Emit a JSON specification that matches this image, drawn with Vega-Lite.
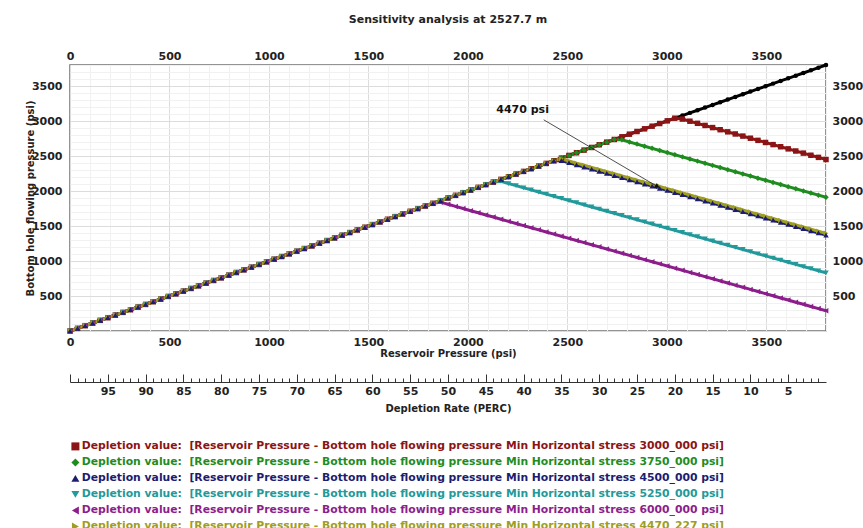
{
"$schema": "https://vega.github.io/schema/vega-lite/v6.json",
"width": 756, "height": 266,
"autosize": {"type": "none"},
"padding": {"left": 70, "top": 65, "right": 37, "bottom": 197},
"background": "white",
"title": {"text": "Sensitivity analysis at 2527.7 m", "font": "DejaVu Sans", "fontSize": 11, "fontWeight": "bold", "color": "#222", "anchor": "middle", "offset": 25},
"config": {
  "view": {"stroke": "#707070", "strokeWidth": 1.5},
  "font": "DejaVu Sans",
  "axis": {"labelFont": "DejaVu Sans", "labelFontWeight": "bold", "labelFontSize": 11, "labelColor": "#222", "titleFont": "DejaVu Sans", "titleFontWeight": "bold", "titleFontSize": 10, "titleColor": "#222", "domain": false, "ticks": false, "grid": false, "labelFlush": false, "labelOverlap": false}
},
"data": {"values": [
{"x":0,"r":0,"g":0,"b":0,"t":0,"p":0,"o":0},
{"x":38,"r":38,"g":38,"b":38,"t":38,"p":38,"o":38},
{"x":76,"r":76,"g":76,"b":76,"t":76,"p":76,"o":76},
{"x":114,"r":114,"g":114,"b":114,"t":114,"p":114,"o":114},
{"x":152,"r":152,"g":152,"b":152,"t":152,"p":152,"o":152},
{"x":190,"r":190,"g":190,"b":190,"t":190,"p":190,"o":190},
{"x":228,"r":228,"g":228,"b":228,"t":228,"p":228,"o":228},
{"x":266,"r":266,"g":266,"b":266,"t":266,"p":266,"o":266},
{"x":304,"r":304,"g":304,"b":304,"t":304,"p":304,"o":304},
{"x":342,"r":342,"g":342,"b":342,"t":342,"p":342,"o":342},
{"x":380,"r":380,"g":380,"b":380,"t":380,"p":380,"o":380},
{"x":418,"r":418,"g":418,"b":418,"t":418,"p":418,"o":418},
{"x":456,"r":456,"g":456,"b":456,"t":456,"p":456,"o":456},
{"x":494,"r":494,"g":494,"b":494,"t":494,"p":494,"o":494},
{"x":532,"r":532,"g":532,"b":532,"t":532,"p":532,"o":532},
{"x":570,"r":570,"g":570,"b":570,"t":570,"p":570,"o":570},
{"x":608,"r":608,"g":608,"b":608,"t":608,"p":608,"o":608},
{"x":646,"r":646,"g":646,"b":646,"t":646,"p":646,"o":646},
{"x":684,"r":684,"g":684,"b":684,"t":684,"p":684,"o":684},
{"x":722,"r":722,"g":722,"b":722,"t":722,"p":722,"o":722},
{"x":760,"r":760,"g":760,"b":760,"t":760,"p":760,"o":760},
{"x":798,"r":798,"g":798,"b":798,"t":798,"p":798,"o":798},
{"x":836,"r":836,"g":836,"b":836,"t":836,"p":836,"o":836},
{"x":874,"r":874,"g":874,"b":874,"t":874,"p":874,"o":874},
{"x":912,"r":912,"g":912,"b":912,"t":912,"p":912,"o":912},
{"x":950,"r":950,"g":950,"b":950,"t":950,"p":950,"o":950},
{"x":988,"r":988,"g":988,"b":988,"t":988,"p":988,"o":988},
{"x":1026,"r":1026,"g":1026,"b":1026,"t":1026,"p":1026,"o":1026},
{"x":1064,"r":1064,"g":1064,"b":1064,"t":1064,"p":1064,"o":1064},
{"x":1102,"r":1102,"g":1102,"b":1102,"t":1102,"p":1102,"o":1102},
{"x":1140,"r":1140,"g":1140,"b":1140,"t":1140,"p":1140,"o":1140},
{"x":1178,"r":1178,"g":1178,"b":1178,"t":1178,"p":1178,"o":1178},
{"x":1216,"r":1216,"g":1216,"b":1216,"t":1216,"p":1216,"o":1216},
{"x":1254,"r":1254,"g":1254,"b":1254,"t":1254,"p":1254,"o":1254},
{"x":1292,"r":1292,"g":1292,"b":1292,"t":1292,"p":1292,"o":1292},
{"x":1330,"r":1330,"g":1330,"b":1330,"t":1330,"p":1330,"o":1330},
{"x":1368,"r":1368,"g":1368,"b":1368,"t":1368,"p":1368,"o":1368},
{"x":1406,"r":1406,"g":1406,"b":1406,"t":1406,"p":1406,"o":1406},
{"x":1444,"r":1444,"g":1444,"b":1444,"t":1444,"p":1444,"o":1444},
{"x":1482,"r":1482,"g":1482,"b":1482,"t":1482,"p":1482,"o":1482},
{"x":1520,"r":1520,"g":1520,"b":1520,"t":1520,"p":1520,"o":1520},
{"x":1558,"r":1558,"g":1558,"b":1558,"t":1558,"p":1558,"o":1558},
{"x":1596,"r":1596,"g":1596,"b":1596,"t":1596,"p":1596,"o":1596},
{"x":1634,"r":1634,"g":1634,"b":1634,"t":1634,"p":1634,"o":1634},
{"x":1672,"r":1672,"g":1672,"b":1672,"t":1672,"p":1672,"o":1672},
{"x":1710,"r":1710,"g":1710,"b":1710,"t":1710,"p":1710,"o":1710},
{"x":1748,"r":1748,"g":1748,"b":1748,"t":1748,"p":1748,"o":1748},
{"x":1786,"r":1786,"g":1786,"b":1786,"t":1786,"p":1786,"o":1786},
{"x":1824,"r":1824,"g":1824,"b":1824,"t":1824,"p":1824,"o":1824},
{"x":1862,"r":1862,"g":1862,"b":1862,"t":1862,"p":1840.4,"o":1862},
{"x":1900,"r":1900,"g":1900,"b":1900,"t":1900,"p":1810,"o":1900},
{"x":1938,"r":1938,"g":1938,"b":1938,"t":1938,"p":1779.6,"o":1938},
{"x":1976,"r":1976,"g":1976,"b":1976,"t":1976,"p":1749.2,"o":1976},
{"x":2014,"r":2014,"g":2014,"b":2014,"t":2014,"p":1718.8,"o":2014},
{"x":2052,"r":2052,"g":2052,"b":2052,"t":2052,"p":1688.4,"o":2052},
{"x":2090,"r":2090,"g":2090,"b":2090,"t":2090,"p":1658,"o":2090},
{"x":2128,"r":2128,"g":2128,"b":2128,"t":2128,"p":1627.6,"o":2128},
{"x":2166,"r":2166,"g":2166,"b":2166,"t":2137.2,"p":1597.2,"o":2166},
{"x":2204,"r":2204,"g":2204,"b":2204,"t":2106.8,"p":1566.8,"o":2204},
{"x":2242,"r":2242,"g":2242,"b":2242,"t":2076.4,"p":1536.4,"o":2242},
{"x":2280,"r":2280,"g":2280,"b":2280,"t":2046,"p":1506,"o":2280},
{"x":2318,"r":2318,"g":2318,"b":2318,"t":2015.6,"p":1475.6,"o":2318},
{"x":2356,"r":2356,"g":2356,"b":2356,"t":1985.2,"p":1445.2,"o":2356},
{"x":2394,"r":2394,"g":2394,"b":2394,"t":1954.8,"p":1414.8,"o":2394},
{"x":2432,"r":2432,"g":2432,"b":2432,"t":1924.4,"p":1384.4,"o":2432},
{"x":2470,"r":2470,"g":2470,"b":2434,"t":1894,"p":1354,"o":2459},
{"x":2508,"r":2508,"g":2508,"b":2403.6,"t":1863.6,"p":1323.6,"o":2428.6},
{"x":2546,"r":2546,"g":2546,"b":2373.2,"t":1833.2,"p":1293.2,"o":2398.2},
{"x":2584,"r":2584,"g":2584,"b":2342.8,"t":1802.8,"p":1262.8,"o":2367.8},
{"x":2622,"r":2622,"g":2622,"b":2312.4,"t":1772.4,"p":1232.4,"o":2337.4},
{"x":2660,"r":2660,"g":2660,"b":2282,"t":1742,"p":1202,"o":2307},
{"x":2698,"r":2698,"g":2698,"b":2251.6,"t":1711.6,"p":1171.6,"o":2276.6},
{"x":2736,"r":2736,"g":2736,"b":2221.2,"t":1681.2,"p":1141.2,"o":2246.2},
{"x":2774,"r":2774,"g":2730.8,"b":2190.8,"t":1650.8,"p":1110.8,"o":2215.8},
{"x":2812,"r":2812,"g":2700.4,"b":2160.4,"t":1620.4,"p":1080.4,"o":2185.4},
{"x":2850,"r":2850,"g":2670,"b":2130,"t":1590,"p":1050,"o":2155},
{"x":2888,"r":2888,"g":2639.6,"b":2099.6,"t":1559.6,"p":1019.6,"o":2124.6},
{"x":2926,"r":2926,"g":2609.2,"b":2069.2,"t":1529.2,"p":989.2,"o":2094.2},
{"x":2964,"r":2964,"g":2578.8,"b":2038.8,"t":1498.8,"p":958.8,"o":2063.8},
{"x":3002,"r":3002,"g":2548.4,"b":2008.4,"t":1468.4,"p":928.4,"o":2033.4},
{"x":3040,"r":3040,"g":2518,"b":1978,"t":1438,"p":898,"o":2003},
{"x":3078,"r":3027.6,"g":2487.6,"b":1947.6,"t":1407.6,"p":867.6,"o":1972.6},
{"x":3116,"r":2997.2,"g":2457.2,"b":1917.2,"t":1377.2,"p":837.2,"o":1942.2},
{"x":3154,"r":2966.8,"g":2426.8,"b":1886.8,"t":1346.8,"p":806.8,"o":1911.8},
{"x":3192,"r":2936.4,"g":2396.4,"b":1856.4,"t":1316.4,"p":776.4,"o":1881.4},
{"x":3230,"r":2906,"g":2366,"b":1826,"t":1286,"p":746,"o":1851},
{"x":3268,"r":2875.6,"g":2335.6,"b":1795.6,"t":1255.6,"p":715.6,"o":1820.6},
{"x":3306,"r":2845.2,"g":2305.2,"b":1765.2,"t":1225.2,"p":685.2,"o":1790.2},
{"x":3344,"r":2814.8,"g":2274.8,"b":1734.8,"t":1194.8,"p":654.8,"o":1759.8},
{"x":3382,"r":2784.4,"g":2244.4,"b":1704.4,"t":1164.4,"p":624.4,"o":1729.4},
{"x":3420,"r":2754,"g":2214,"b":1674,"t":1134,"p":594,"o":1699},
{"x":3458,"r":2723.6,"g":2183.6,"b":1643.6,"t":1103.6,"p":563.6,"o":1668.6},
{"x":3496,"r":2693.2,"g":2153.2,"b":1613.2,"t":1073.2,"p":533.2,"o":1638.2},
{"x":3534,"r":2662.8,"g":2122.8,"b":1582.8,"t":1042.8,"p":502.8,"o":1607.8},
{"x":3572,"r":2632.4,"g":2092.4,"b":1552.4,"t":1012.4,"p":472.4,"o":1577.4},
{"x":3610,"r":2602,"g":2062,"b":1522,"t":982,"p":442,"o":1547},
{"x":3648,"r":2571.6,"g":2031.6,"b":1491.6,"t":951.6,"p":411.6,"o":1516.6},
{"x":3686,"r":2541.2,"g":2001.2,"b":1461.2,"t":921.2,"p":381.2,"o":1486.2},
{"x":3724,"r":2510.8,"g":1970.8,"b":1430.8,"t":890.8,"p":350.8,"o":1455.8},
{"x":3762,"r":2480.4,"g":1940.4,"b":1400.4,"t":860.4,"p":320.4,"o":1425.4},
{"x":3800,"r":2450,"g":1910,"b":1370,"t":830,"p":290,"o":1395}
]},
"resolve": {"scale": {"x": "independent", "y": "independent"}, "axis": {"x": "independent", "y": "independent"}},
"layer": [
  {
    "mark": {"type": "line", "color": "#000000", "strokeWidth": 3},
    "encoding": {
      "x": {"field": "x", "type": "quantitative", "scale": {"domain": [0, 3800], "nice": false, "zero": false},
        "axis": {"orient": "top", "values": [0,500,1000,1500,2000,2500,3000,3500], "format": "d", "labelPadding": 4, "title": null}},
      "y": {"field": "x", "type": "quantitative", "scale": {"domain": [0, 3800], "nice": false, "zero": false},
        "axis": {"orient": "right", "values": [500,1000,1500,2000,2500,3000,3500], "format": "d", "labelPadding": 6, "title": null}}
    }
  },
  {
    "mark": {"type": "point", "filled": true, "shape": "circle", "size": 20, "color": "#000000", "opacity": 1},
    "encoding": {
      "x": {"field": "x", "type": "quantitative", "scale": {"domain": [0, 3800], "nice": false, "zero": false}, "axis": null},
      "y": {"field": "x", "type": "quantitative", "scale": {"domain": [0, 3800], "nice": false, "zero": false}, "axis": null}
    }
  },
  {
    "transform": [{"fold": ["r", "g", "b", "t", "p", "o"], "as": ["s", "v"]}],
    "mark": {"type": "line", "strokeWidth": 3},
    "encoding": {
      "x": {"field": "x", "type": "quantitative", "scale": {"domain": [0, 3800], "nice": false, "zero": false},
        "axis": {"orient": "bottom", "values": [0,100,200,300,400,500,600,700,800,900,1000,1100,1200,1300,1400,1500,1600,1700,1800,1900,2000,2100,2200,2300,2400,2500,2600,2700,2800,2900,3000,3100,3200,3300,3400,3500,3600,3700,3800],
          "format": "d", "labelExpr": "datum.value % 500 === 0 ? datum.label : ''", "labelPadding": 5,
          "grid": true, "gridColor": {"condition": {"test": "datum.value % 500 === 0", "value": "#dcdcdc"}, "value": "#f1f1f1"},
          "title": "Reservoir Pressure (psi)", "titlePadding": 1}},
      "y": {"field": "v", "type": "quantitative", "scale": {"domain": [0, 3800], "nice": false, "zero": false},
        "axis": {"orient": "left", "values": [0,100,200,300,400,500,600,700,800,900,1000,1100,1200,1300,1400,1500,1600,1700,1800,1900,2000,2100,2200,2300,2400,2500,2600,2700,2800,2900,3000,3100,3200,3300,3400,3500,3600,3700,3800],
          "format": "d", "labelExpr": "datum.value % 500 === 0 && datum.value > 0 ? datum.label : ''", "labelPadding": 8,
          "grid": true, "gridColor": {"condition": {"test": "datum.value % 500 === 0", "value": "#dcdcdc"}, "value": "#f1f1f1"},
          "title": "Bottom hole flowing pressure (psi)", "titleX": -40, "titleY": 133, "titleAngle": 270, "titleAlign": "center", "titleBaseline": "middle"}},
      "stroke": {"field": "s", "type": "nominal", "scale": {"domain": ["o", "r", "g", "b", "t", "p"], "range": ["#9e9e22", "#8b1414", "#1f8c1f", "#1c1c70", "#22999a", "#8c1e8c"]}, "legend": null}
    }
  },
  {
    "transform": [{"fold": ["r", "g", "t", "p", "o", "b"], "as": ["s", "v"]}],
    "mark": {"type": "point", "filled": true, "size": 30, "opacity": 1},
    "encoding": {
      "x": {"field": "x", "type": "quantitative", "scale": {"domain": [0, 3800], "nice": false, "zero": false}, "axis": null},
      "y": {"field": "v", "type": "quantitative", "scale": {"domain": [0, 3800], "nice": false, "zero": false}, "axis": null},
      "color": {"field": "s", "type": "nominal", "scale": {"domain": ["r", "g", "b", "t", "p", "o"], "range": ["#8b1414", "#1f8c1f", "#1c1c70", "#22999a", "#8c1e8c", "#9e9e22"]},
        "legend": {"orient": "none", "legendX": 0, "legendY": 376, "direction": "vertical", "title": null, "padding": 0, "rowPadding": 4, "labelOffset": 1,
          "labelFont": "DejaVu Sans", "labelFontWeight": "bold", "labelFontSize": 10.8, "labelLimit": 2000, "symbolSize": 64,
          "labelColor": {"expr": "scale('color', datum.value)"},
          "labelExpr": "'Depletion value:\u00a0 [Reservoir Pressure - Bottom hole flowing pressure Min Horizontal stress ' + (datum.label === 'r' ? '3000_000' : datum.label === 'g' ? '3750_000' : datum.label === 'b' ? '4500_000' : datum.label === 't' ? '5250_000' : datum.label === 'p' ? '6000_000' : '4470_227') + ' psi]'"}},
      "shape": {"field": "s", "type": "nominal", "scale": {"domain": ["r", "g", "b", "t", "p", "o"], "range": ["square", "diamond", "triangle-up", "triangle-down", "triangle-left", "triangle-right"]}}
    }
  },
  {
    "data": {"values": [{"tx": 2275, "ty": 3160, "label": "4470 psi", "ax": 2381, "ay": 3017, "bx": 2953, "by": 2063}]},
    "layer": [
      {
        "mark": {"type": "rule", "color": "#222222", "strokeWidth": 0.8},
        "encoding": {
          "x": {"field": "ax", "type": "quantitative", "scale": {"domain": [0, 3800], "nice": false, "zero": false}, "axis": null},
          "y": {"field": "ay", "type": "quantitative", "scale": {"domain": [0, 3800], "nice": false, "zero": false}, "axis": null},
          "x2": {"field": "bx"},
          "y2": {"field": "by"}
        }
      },
      {
        "mark": {"type": "point", "shape": "triangle-right", "filled": true, "size": 30, "angle": 30, "color": "#111111", "opacity": 1},
        "encoding": {
          "x": {"field": "bx", "type": "quantitative", "scale": {"domain": [0, 3800], "nice": false, "zero": false}, "axis": null},
          "y": {"field": "by", "type": "quantitative", "scale": {"domain": [0, 3800], "nice": false, "zero": false}, "axis": null}
        }
      },
      {
        "mark": {"type": "text", "font": "DejaVu Sans", "fontWeight": "bold", "fontSize": 11, "color": "#111111"},
        "encoding": {
          "x": {"field": "tx", "type": "quantitative", "scale": {"domain": [0, 3800], "nice": false, "zero": false}, "axis": null},
          "y": {"field": "ty", "type": "quantitative", "scale": {"domain": [0, 3800], "nice": false, "zero": false}, "axis": null},
          "text": {"field": "label"}
        }
      }
    ]
  },
  {
    "data": {"values": [{"d": 50}]},
    "mark": {"type": "tick", "opacity": 0},
    "encoding": {
      "x": {"field": "d", "type": "quantitative", "scale": {"domain": [100, 0], "nice": false, "zero": false},
        "axis": {"orient": "bottom", "offset": 51, "values": [1,2,3,4,5,6,7,8,9,10,11,12,13,14,15,16,17,18,19,20,21,22,23,24,25,26,27,28,29,30,31,32,33,34,35,36,37,38,39,40,41,42,43,44,45,46,47,48,49,50,51,52,53,54,55,56,57,58,59,60,61,62,63,64,65,66,67,68,69,70,71,72,73,74,75,76,77,78,79,80,81,82,83,84,85,86,87,88,89,90,91,92,93,94,95,96,97,98,99,100],
          "format": "d", "domain": true, "domainColor": "#333333", "domainWidth": 1, "ticks": true, "tickColor": "#333333", "tickWidth": 1,
          "tickSize": {"condition": {"test": "datum.value % 5 === 0", "value": -8}, "value": -4},
          "labelExpr": "datum.value % 5 === 0 && datum.value < 100 ? datum.label : ''", "labelPadding": 11,
          "title": "Depletion Rate (PERC)", "titlePadding": 3}}
    }
  }
]
}
